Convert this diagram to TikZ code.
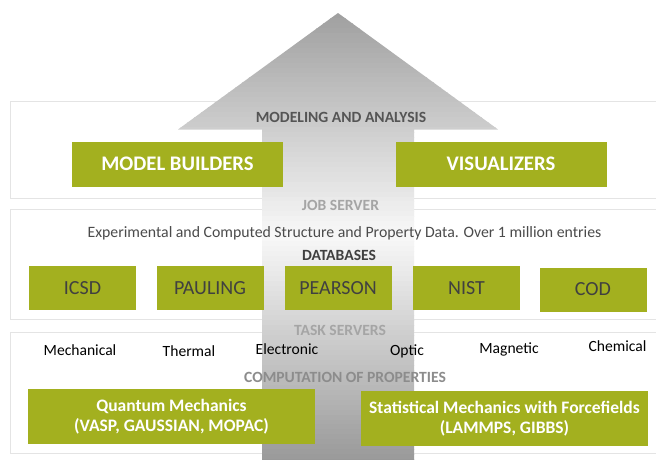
\documentclass[tikz,border=0pt]{standalone}
\usepackage{fontspec}
\setmainfont{Carlito}
\definecolor{boxgreen}{RGB}{163,176,31}
\definecolor{panelline}{RGB}{228,228,228}
\definecolor{headdark}{RGB}{85,85,85}
\definecolor{headlight}{RGB}{165,165,165}
\definecolor{headmid}{RGB}{140,140,140}
\definecolor{boxtext}{RGB}{64,64,64}
\definecolor{exptext}{RGB}{75,75,75}
\definecolor{arrtop}{RGB}{160,160,160}
\definecolor{arrmid}{RGB}{247,247,247}
\definecolor{arrbot}{RGB}{152,152,152}
\begin{document}
\begin{tikzpicture}[x=1pt,y=-1pt,
  panel/.style={draw=panelline,line width=1pt,fill=white},
  gbox/.style={fill=boxgreen,inner sep=0pt,align=center},
  bigbox/.style={gbox,minimum width=211pt,minimum height=45pt,text=white,font=\bfseries\fontsize{20.7}{24}\selectfont},
  dbbox/.style={gbox,minimum width=107pt,minimum height=44pt,text=boxtext,font=\fontsize{20}{22}\selectfont},
  compbox/.style={gbox,minimum width=287pt,minimum height=55pt,text=white,font=\bfseries\fontsize{17.5}{19.5}\selectfont},
  heading/.style={font=\bfseries\fontsize{15.6}{18}\selectfont,text=headdark,inner sep=0pt},
  lightheading/.style={heading,text=headlight},
  prop/.style={font=\fontsize{15.6}{18}\selectfont,text=black,inner sep=0pt,anchor=base}]
\clip (0,0) rectangle (656,459);
\fill[white] (0,0) rectangle (656,459);
% panels
\draw[panel] (10,101) rectangle (670,198);
\draw[panel] (10,209) rectangle (670,319);
\draw[panel] (10,332) rectangle (670,453);
% arrow with vertical gradient (drawn as thin strips)
\begin{scope}
\clip (338,13) -- (498,129.5) -- (414,129.5) -- (414,460) -- (262,460) -- (262,129.5) -- (178,129.5) -- cycle;
\foreach \i in {0,...,44}{
  \pgfmathsetmacro{\ya}{13+\i*4.96}
  \pgfmathtruncatemacro{\p}{100-\i*100/44}
  \fill[arrtop!\p!arrmid] (170,\ya) rectangle (500,\ya+5.6);
}
\foreach \i in {0,...,45}{
  \pgfmathsetmacro{\ya}{236+\i*4.96}
  \pgfmathtruncatemacro{\p}{\i*100/45}
  \fill[arrbot!\p!arrmid] (170,\ya) rectangle (500,\ya+5.6);
}
\end{scope}
% top panel
\node[heading] (ma) at (341,117) {MODELING AND ANALYSIS};
\node[bigbox] (mb) at (177.5,164.2) {MODEL BUILDERS};
\node[bigbox] (vis) at (501,164.2) {VISUALIZERS};
% middle panel
\node[lightheading] (js) at (340.5,205) {JOB SERVER};
\node[font=\fontsize{15.8}{18}\selectfont,text=exptext,inner sep=0pt] (exp) at (344.5,233) {Experimental and Computed Structure and Property Data. Over 1 million entries};
\node[heading,text=boxtext] (db) at (339,255) {DATABASES};
\node[dbbox] (icsd) at (82.5,288) {ICSD};
\node[dbbox] (paul) at (210,288) {PAULING};
\node[dbbox] (pear) at (338,288) {PEARSON};
\node[dbbox] (nist) at (466.5,288) {NIST};
\node[dbbox] (cod) at (593,289.5) {COD};
% bottom panel
\node[lightheading] (ts) at (340,330) {TASK SERVERS};
\node[prop] (mech) at (80,355) {Mechanical};
\node[prop] (therm) at (189,356.7) {Thermal};
\node[prop] (elec) at (287,354.3) {Electronic};
\node[prop] (opt) at (407,355.7) {Optic};
\node[prop] (mag) at (509,353.3) {Magnetic};
\node[prop] (chem) at (617.5,351.7) {Chemical};
\node[heading,text=headmid] (cp) at (345,377) {COMPUTATION OF PROPERTIES};
\node[compbox] (qm) at (171.5,416.5) {Quantum Mechanics\\(VASP, GAUSSIAN, MOPAC)};
\node[compbox] (sm) at (504.5,418.5) {Statistical Mechanics with Forcefields\\(LAMMPS, GIBBS)};
\end{tikzpicture}
\end{document}
